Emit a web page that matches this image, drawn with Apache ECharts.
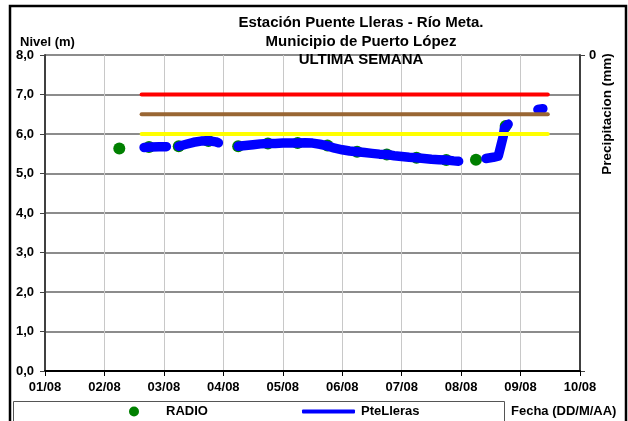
<!DOCTYPE html>
<html><head><meta charset="utf-8">
<script src="https://cdn.jsdelivr.net/npm/echarts@6/dist/echarts.min.js"></script>
<style>html,body{margin:0;padding:0;background:#fff}#c{width:628px;height:421px}</style>
</head><body><div id="c"></div>
<script>
const dayLabels = ['01/08','02/08','03/08','04/08','05/08','06/08','07/08','08/08','09/08','10/08'];
const yTicks = [0,1,2,3,4,5,6,7,8];

const radioTimes = ['02/08 06:00','02/08 18:00','03/08 06:00','03/08 18:00','04/08 06:00','04/08 18:00','05/08 06:00','05/08 18:00','06/08 06:00','06/08 18:00','07/08 06:00','07/08 18:00','08/08 06:00','08/08 18:00'];
const radioValues = [5.63,5.67,5.69,5.82,5.69,5.76,5.77,5.71,5.55,5.48,5.40,5.34,5.35,6.20];

const levelTimes = ['02/08 16:00','02/08 19:00','02/08 22:00','03/08 01:00','03/08 03:00',
 '03/08 06:00','03/08 09:00','03/08 12:00','03/08 15:00','03/08 18:00','03/08 21:00','03/08 22:00','04/08 02:00',
 '04/08 06:00','04/08 09:00','04/08 12:00','04/08 15:00','04/08 18:00','04/08 21:00','05/08 00:00','05/08 03:00','05/08 06:00','05/08 09:00','05/08 12:00','05/08 15:00','05/08 18:00','05/08 21:00','06/08 00:00','06/08 03:00','06/08 06:00','06/08 09:00','06/08 12:00','06/08 15:00','06/08 18:00','06/08 21:00','07/08 00:00','07/08 03:00','07/08 06:00','07/08 09:00','07/08 12:00','07/08 15:00','07/08 18:00','07/08 21:00','07/08 23:00','08/08 03:00',
 '08/08 10:00','08/08 13:00','08/08 15:00','08/08 16:00','08/08 17:00','08/08 17:30','08/08 19:00','09/08 02:00',
 '09/08 07:00','09/08 09:00'];
const levelValues = [5.66,5.67,5.68,5.68,null,
 5.69,5.74,5.79,5.82,5.83,5.80,5.78,null,
 5.69,5.71,5.73,5.75,5.76,5.76,5.77,5.77,5.77,5.78,5.77,5.74,5.70,5.64,5.60,5.57,5.55,5.53,5.51,5.49,5.48,5.45,5.43,5.41,5.40,5.38,5.36,5.35,5.34,5.32,5.31,null,
 5.38,5.41,5.44,5.69,5.94,6.15,6.25,null,
 6.62,6.64];

const thrTimes = ['02/08 15:00','09/08 11:00'];
const thrRed = [7.0,7.0];
const thrBrown = [6.5,6.5];
const thrYellow = [6.0,6.0];

function t(s){ // 'DD/MM HH:mm' -> UTC ms
  const [d,h] = s.split(' ');
  const [dd,mm] = d.split('/').map(Number);
  const [hh,mi] = h.split(':').map(Number);
  return Date.UTC(2023, mm-1, dd, hh, mi);
}
const pairs = (ts, vs) => ts.map((s,i)=>[t(s), vs[i]]);
const DAY = 86400000;
const xMin = t(dayLabels[0] + ' 00:00');
const xMax = t(dayLabels[dayLabels.length-1] + ' 00:00');
const font = 'Liberation Sans, Arial, sans-serif';
const lblStyle = {fontFamily:font, fontSize:13, fontWeight:'bold', color:'#000'};

const chart = echarts.init(document.getElementById('c'), null, {renderer:'canvas'});
chart.setOption({
  animation:false,
  backgroundColor:'#fff',
  title:{
    text:'Estación Puente Lleras - Río Meta.\nMunicipio de Puerto López\nULTIMA SEMANA',
    left:356, top:9, textAlign:'center',
    textStyle:{fontFamily:font, fontSize:15, fontWeight:'bold', color:'#000', lineHeight:18.5}
  },
  grid:{left:45, right:48, top:55, bottom:50},
  legend:[{
    left:129, top:405, padding:0, itemWidth:10, itemHeight:10, itemGap:0,
    textStyle:Object.assign({padding:[0,0,0,22]}, lblStyle),
    data:[{name:'RADIO', icon:'circle', itemStyle:{color:'#008000', opacity:1}}]
  },{
    left:302, top:405, padding:0, itemWidth:53, itemHeight:4, itemGap:0,
    textStyle:Object.assign({padding:[0,0,0,1]}, lblStyle),
    data:[{name:'PteLleras', icon:'roundRect'}]
  }],
  xAxis:{
    type:'value', min:xMin, max:xMax, interval:DAY,
    axisLine:{lineStyle:{color:'#000', width:2}},
    axisTick:{show:true, length:5, lineStyle:{color:'#000'}},
    axisLabel:Object.assign({margin:10,
      formatter:v=>{const d=new Date(v);return String(d.getUTCDate()).padStart(2,'0')+'/'+String(d.getUTCMonth()+1).padStart(2,'0');}}, lblStyle),
    splitLine:{show:true, lineStyle:{color:'#c8c8c8', width:1}}
  },
  yAxis:[{
    type:'value', min:yTicks[0], max:yTicks[yTicks.length-1], interval:1,
    axisLine:{show:true, lineStyle:{color:'#404040', width:2}},
    axisTick:{show:true, length:5, lineStyle:{color:'#404040'}},
    axisLabel:Object.assign({margin:11, formatter:v=>v.toFixed(1).replace('.',',')}, lblStyle),
    splitLine:{show:true, lineStyle:{color:'#8c8c8c', width:2}}
  },{
    type:'value', position:'right', min:0, max:1, interval:1, inverse:true,
    axisLine:{show:true, lineStyle:{color:'#404040', width:2}},
    axisTick:{show:true, length:5, lineStyle:{color:'#404040'}},
    axisLabel:Object.assign({margin:9, formatter:v=>v===0?'0':''}, lblStyle),
    splitLine:{show:false}
  }],
  series:[
    {name:'RADIO', type:'scatter', data:pairs(radioTimes, radioValues), symbolSize:12,
      itemStyle:{color:'#008000', opacity:1}, z:2},
    {name:'PteLleras', type:'line', data:pairs(levelTimes, levelValues), showSymbol:false, symbol:'none',
      connectNulls:false, lineStyle:{color:'#0000ff', width:9.5, cap:'round', join:'round'}, itemStyle:{color:'#0000ff'}, z:3},
    {name:'Rojo', type:'line', data:pairs(thrTimes, thrRed), symbol:'none', lineStyle:{color:'#ff0000', width:4, cap:'round'}, z:4},
    {name:'Naranja', type:'line', data:pairs(thrTimes, thrBrown), symbol:'none', lineStyle:{color:'#996633', width:4, cap:'round'}, z:4},
    {name:'Amarillo', type:'line', data:pairs(thrTimes, thrYellow), symbol:'none', lineStyle:{color:'#ffff00', width:4, cap:'round'}, z:4}
  ],
  graphic:[
    {type:'rect', shape:{x:10, y:6, width:616, height:430}, style:{fill:null, stroke:'#000', lineWidth:2.5}, silent:true},
    {type:'rect', shape:{x:13.5, y:401.5, width:491, height:40}, style:{fill:null, stroke:'#555', lineWidth:1}, silent:true},
    {type:'text', left:20, top:36, style:{text:'Nivel (m)', font:'bold 13px '+font, fill:'#000'}},
    {type:'text', left:511, top:405, style:{text:'Fecha (DD/M/AA)', font:'bold 13px '+font, fill:'#000'}},
    {type:'text', x:607, y:114, rotation:Math.PI/2, style:{text:'Precipitacion (mm)', font:'bold 13.5px '+font, fill:'#000', align:'center', verticalAlign:'middle'}}
  ]
});
</script></body></html>
